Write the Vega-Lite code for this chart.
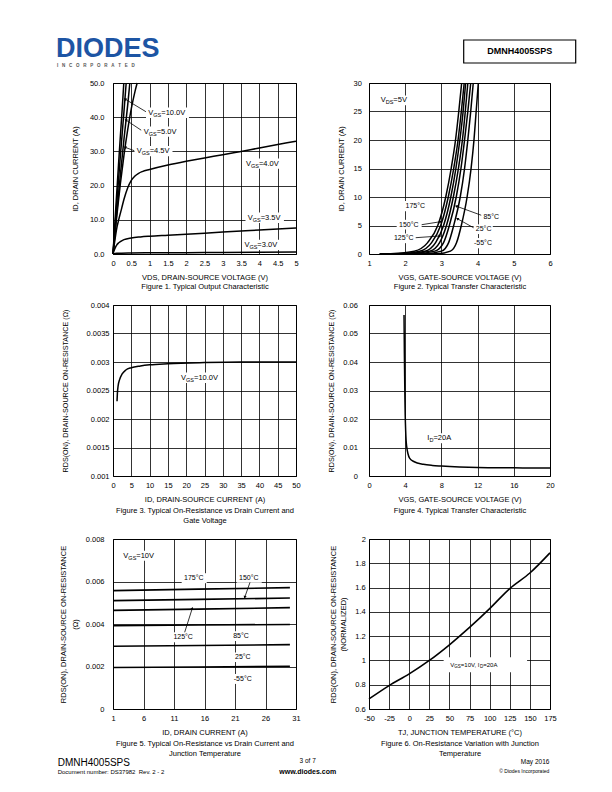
{
"$schema":"https://vega.github.io/schema/vega-lite/v6.json",
"background":"white",
"padding":{"left":55,"top":34,"right":0,"bottom":0},
"autosize":{"type":"pad"},
"columns":2,
"align":"each",
"spacing":{"row":9,"column":-11},
"config":{
 "font":"Liberation Sans",
 "view":{"stroke":"black","strokeWidth":1},
 "axis":{"grid":true,"gridColor":"black","gridOpacity":1,"gridWidth":0.8,"domain":false,"ticks":false,"labelFont":"Liberation Sans","labelFontSize":7.5,"labelColor":"black","titleFont":"Liberation Sans","titleFontSize":7.5,"titleFontWeight":"normal","titleColor":"black","labelFlush":false,"labelOverlap":false},
 "text":{"font":"Liberation Sans","color":"black"}
},
"datasets":{
 "p1c":[
  {"s":"10V","x":0,"y":0},{"s":"10V","x":0.05,"y":8.8},{"s":"10V","x":0.1,"y":17.5},{"s":"10V","x":0.15,"y":26},{"s":"10V","x":0.2,"y":34.3},{"s":"10V","x":0.25,"y":42.2},{"s":"10V","x":0.295,"y":50},
  {"s":"6V","x":0,"y":0},{"s":"6V","x":0.1,"y":14.5},{"s":"6V","x":0.2,"y":28.5},{"s":"6V","x":0.3,"y":41.7},{"s":"6V","x":0.36,"y":50},
  {"s":"5V","x":0,"y":0},{"s":"5V","x":0.1,"y":11.8},{"s":"5V","x":0.2,"y":23},{"s":"5V","x":0.3,"y":33.6},{"s":"5V","x":0.4,"y":43.4},{"s":"5V","x":0.46,"y":50},
  {"s":"4.5V","x":0,"y":0},{"s":"4.5V","x":0.1,"y":10.8},{"s":"4.5V","x":0.2,"y":20.4},{"s":"4.5V","x":0.3,"y":28.9},{"s":"4.5V","x":0.4,"y":36.2},{"s":"4.5V","x":0.5,"y":42.5},{"s":"4.5V","x":0.6,"y":47.5},{"s":"4.5V","x":0.66,"y":50},
  {"s":"4V","x":0,"y":0},{"s":"4V","x":0.035,"y":2.8},{"s":"4V","x":0.07,"y":5.4},{"s":"4V","x":0.11,"y":7.9},{"s":"4V","x":0.16,"y":10.2},{"s":"4V","x":0.24,"y":13.5},{"s":"4V","x":0.3,"y":16},{"s":"4V","x":0.4,"y":19.3},{"s":"4V","x":0.5,"y":21.5},{"s":"4V","x":0.6,"y":22.8},{"s":"4V","x":0.7,"y":23.6},{"s":"4V","x":0.8,"y":24.1},{"s":"4V","x":1,"y":24.7},{"s":"4V","x":1.5,"y":26},{"s":"4V","x":2,"y":27.1},{"s":"4V","x":2.5,"y":28.1},{"s":"4V","x":3,"y":29},{"s":"4V","x":3.5,"y":30},{"s":"4V","x":4,"y":31},{"s":"4V","x":4.5,"y":32},{"s":"4V","x":5,"y":33},
  {"s":"3.5V","x":0,"y":0},{"s":"3.5V","x":0.03,"y":1},{"s":"3.5V","x":0.06,"y":1.8},{"s":"3.5V","x":0.1,"y":2.6},{"s":"3.5V","x":0.15,"y":3.2},{"s":"3.5V","x":0.2,"y":3.6},{"s":"3.5V","x":0.3,"y":4.2},{"s":"3.5V","x":0.5,"y":4.7},{"s":"3.5V","x":0.75,"y":5},{"s":"3.5V","x":1,"y":5.2},{"s":"3.5V","x":1.5,"y":5.5},{"s":"3.5V","x":2,"y":5.8},{"s":"3.5V","x":2.5,"y":6.1},{"s":"3.5V","x":3,"y":6.4},{"s":"3.5V","x":3.5,"y":6.7},{"s":"3.5V","x":4,"y":7},{"s":"3.5V","x":4.5,"y":7.3},{"s":"3.5V","x":5,"y":7.6},
  {"s":"3V","x":0,"y":0},{"s":"3V","x":0.1,"y":0.2},{"s":"3V","x":0.5,"y":0.3},{"s":"3V","x":1,"y":0.35},{"s":"3V","x":2,"y":0.4},{"s":"3V","x":3,"y":0.45},{"s":"3V","x":4,"y":0.5},{"s":"3V","x":5,"y":0.55}
 ],
 "p1b":[
  {"x":0.902,"x2":2.076,"y":39.8,"y2":42.8},
  {"x":0.779,"x2":1.83,"y":34.3,"y2":37.3},
  {"x":0.587,"x2":1.626,"y":28.6,"y2":31.6},
  {"x":3.566,"x2":4.617,"y":24.9,"y2":27.9},
  {"x":3.62,"x2":4.67,"y":9.1,"y2":12.1},
  {"x":3.525,"x2":4.577,"y":1.2,"y2":4.2}
 ],
 "p1r":[
  {"k":"a","x":0.33,"y":45.3,"x2":0.9,"y2":41.6},
  {"k":"b","x":0.35,"y":39.2,"x2":0.77,"y2":36.2},
  {"k":"c","x":0.33,"y":31.2,"x2":0.58,"y2":30.2}
 ],
 "p1l":[
  {"x":0.965,"y":41.3,"a":"V","b":"GS","c":"=10.0V"},
  {"x":0.84,"y":35.8,"a":"V","b":"GS","c":"=5.0V"},
  {"x":0.65,"y":30.1,"a":"V","b":"GS","c":"=4.5V"},
  {"x":3.634,"y":26.4,"a":"V","b":"GS","c":"=4.0V"},
  {"x":3.68,"y":10.6,"a":"V","b":"GS","c":"=3.5V"},
  {"x":3.59,"y":2.6,"a":"V","b":"GS","c":"=3.0V"}
 ],
 "p1h":[{"x":-1.557,"y":57.6,"t":"DIODES"}],
 "p1h2":[{"x":-1.53,"y":54.82,"t":"I\u00a0\u00a0\u00a0N\u00a0\u00a0\u00a0C\u00a0\u00a0\u00a0O\u00a0\u00a0\u00a0R\u00a0\u00a0\u00a0P\u00a0\u00a0\u00a0O\u00a0\u00a0\u00a0R\u00a0\u00a0\u00a0A\u00a0\u00a0\u00a0T\u00a0\u00a0\u00a0E\u00a0\u00a0\u00a0D"}],
 "p2c":[
  {"s":"175","x":1.3,"y":0},{"s":"175","x":1.6,"y":0.05},{"s":"175","x":2.25,"y":0.5},{"s":"175","x":2.62,"y":2},{"s":"175","x":2.9,"y":5},{"s":"175","x":3.12,"y":10},{"s":"175","x":3.27,"y":15},{"s":"175","x":3.39,"y":20},{"s":"175","x":3.48,"y":25},{"s":"175","x":3.56,"y":30},
  {"s":"150","x":1.3,"y":0},{"s":"150","x":1.8,"y":0.05},{"s":"150","x":2.4,"y":0.5},{"s":"150","x":2.73,"y":2},{"s":"150","x":2.98,"y":5},{"s":"150","x":3.19,"y":10},{"s":"150","x":3.34,"y":15},{"s":"150","x":3.46,"y":20},{"s":"150","x":3.55,"y":25},{"s":"150","x":3.63,"y":30},
  {"s":"125","x":1.3,"y":0},{"s":"125","x":2.0,"y":0.05},{"s":"125","x":2.55,"y":0.5},{"s":"125","x":2.84,"y":2},{"s":"125","x":3.06,"y":5},{"s":"125","x":3.26,"y":10},{"s":"125","x":3.4,"y":15},{"s":"125","x":3.51,"y":20},{"s":"125","x":3.6,"y":25},{"s":"125","x":3.67,"y":30},
  {"s":"100","x":1.3,"y":0},{"s":"100","x":2.15,"y":0.05},{"s":"100","x":2.68,"y":0.5},{"s":"100","x":2.95,"y":2},{"s":"100","x":3.14,"y":5},{"s":"100","x":3.33,"y":10},{"s":"100","x":3.47,"y":15},{"s":"100","x":3.58,"y":20},{"s":"100","x":3.66,"y":25},{"s":"100","x":3.73,"y":30},
  {"s":"85","x":1.3,"y":0},{"s":"85","x":2.3,"y":0.05},{"s":"85","x":2.82,"y":0.5},{"s":"85","x":3.06,"y":2},{"s":"85","x":3.22,"y":5},{"s":"85","x":3.41,"y":10},{"s":"85","x":3.54,"y":15},{"s":"85","x":3.64,"y":20},{"s":"85","x":3.73,"y":25},{"s":"85","x":3.81,"y":30},
  {"s":"25","x":1.3,"y":0},{"s":"25","x":2.55,"y":0.05},{"s":"25","x":3.0,"y":0.5},{"s":"25","x":3.2,"y":2},{"s":"25","x":3.34,"y":5},{"s":"25","x":3.52,"y":10},{"s":"25","x":3.64,"y":15},{"s":"25","x":3.73,"y":20},{"s":"25","x":3.81,"y":25},{"s":"25","x":3.88,"y":30},
  {"s":"-55","x":1.3,"y":0},{"s":"-55","x":2.9,"y":0.05},{"s":"-55","x":3.25,"y":0.5},{"s":"-55","x":3.42,"y":2},{"s":"-55","x":3.55,"y":5},{"s":"-55","x":3.71,"y":10},{"s":"-55","x":3.82,"y":15},{"s":"-55","x":3.9,"y":20},{"s":"-55","x":3.96,"y":25},{"s":"-55","x":4.02,"y":30}
 ],
 "p2b":[
  {"x":1.268,"x2":2.124,"y":26.1,"y2":27.8},
  {"x":1.96,"x2":2.62,"y":7.5,"y2":9.3},
  {"x":1.765,"x2":2.455,"y":4.3,"y2":6.0},
  {"x":1.627,"x2":2.29,"y":1.9,"y2":3.6},
  {"x":4.1,"x2":4.65,"y":5.7,"y2":7.4},
  {"x":3.89,"x2":4.42,"y":3.5,"y2":5.2},
  {"x":3.84,"x2":4.5,"y":1.0,"y2":2.8}
 ],
 "p2r":[
  {"k":"a","x":2.98,"y":5.67,"x2":2.455,"y2":5.14},
  {"k":"b","x":2.96,"y":3.16,"x2":2.29,"y2":2.86},
  {"k":"c","x":3.41,"y":8.4,"x2":4.1,"y2":6.8},
  {"k":"d","x":3.44,"y":6.2,"x2":3.89,"y2":4.6}
 ],
 "p2t":[
  {"x":2.01,"y":8.4,"t":"175°C"},
  {"x":1.83,"y":5.15,"t":"150°C"},
  {"x":1.69,"y":2.75,"t":"125°C"},
  {"x":4.16,"y":6.55,"t":"85°C"},
  {"x":3.95,"y":4.33,"t":"25°C"},
  {"x":3.9,"y":1.93,"t":"-55°C"}
 ],
 "p2l":[{"x":1.323,"y":26.96,"a":"V","b":"DS","c":"=5V"}],
 "p2hb":[{"x":3.616,"x2":6.71,"y":37.54,"y2":33.51}],
 "p2ht":[{"x":5.163,"y":35.53,"t":"DMNH4005SPS"}],
 "p3c":[
  {"x":1.1,"y":0.00231},{"x":1.2,"y":0.00245},{"x":1.4,"y":0.00258},{"x":1.8,"y":0.00269},{"x":2.5,"y":0.00279},{"x":3.5,"y":0.00286},{"x":5,"y":0.0029},{"x":7.5,"y":0.00293},{"x":10,"y":0.00295},{"x":15,"y":0.00297},{"x":25,"y":0.00299},{"x":35,"y":0.003},{"x":50,"y":0.003}
 ],
 "p3b":[{"x":18.03,"x2":30.05,"y":0.002632,"y2":0.002816}],
 "p3l":[{"x":18.6,"y":0.002725,"a":"V","b":"GS","c":"=10.0V"}],
 "p4c":[
  {"x":3.87,"y":0.0565},{"x":3.89,"y":0.05},{"x":3.91,"y":0.043},{"x":3.94,"y":0.035},{"x":3.97,"y":0.027},{"x":4.0,"y":0.0215},{"x":4.05,"y":0.016},{"x":4.1,"y":0.0125},{"x":4.17,"y":0.0102},{"x":4.3,"y":0.0079},{"x":4.5,"y":0.0062},{"x":5,"y":0.005},{"x":6,"y":0.0041},{"x":7,"y":0.0037},{"x":8,"y":0.0035},{"x":10,"y":0.0032},{"x":12,"y":0.003},{"x":14,"y":0.0029},{"x":16,"y":0.0029},{"x":18,"y":0.0028},{"x":20,"y":0.0028}
 ],
 "p4b":[{"x":6.21,"x2":9.47,"y":0.0115,"y2":0.015}],
 "p4l":[{"x":6.45,"y":0.01322,"a":"I","b":"D","c":"=20A"}],
 "p5c":[
  {"s":"175","x":1,"y":0.00557},{"s":"175","x":15,"y":0.00564},{"s":"175","x":30,"y":0.00571},
  {"s":"150","x":1,"y":0.0051},{"s":"150","x":15,"y":0.00516},{"s":"150","x":30,"y":0.00522},
  {"s":"125","x":1,"y":0.00464},{"s":"125","x":15,"y":0.0047},{"s":"125","x":30,"y":0.00477},
  {"s":"85","x":1,"y":0.00392},{"s":"85","x":15,"y":0.00395},{"s":"85","x":30,"y":0.00398},
  {"s":"25","x":1,"y":0.00295},{"s":"25","x":15,"y":0.00299},{"s":"25","x":30,"y":0.00303},
  {"s":"-55","x":1,"y":0.00195},{"s":"-55","x":15,"y":0.00198},{"s":"-55","x":30,"y":0.00201}
 ],
 "p5b":[
  {"x":2.34,"x2":8.0,"y":0.00698,"y2":0.00745},
  {"x":12.26,"x2":16.36,"y":0.00592,"y2":0.00639},
  {"x":21.28,"x2":25.38,"y":0.00594,"y2":0.00642},
  {"x":10.54,"x2":14.72,"y":0.00314,"y2":0.00361},
  {"x":20.38,"x2":23.66,"y":0.0032,"y2":0.00366},
  {"x":20.62,"x2":23.66,"y":0.00221,"y2":0.00266},
  {"x":20.46,"x2":23.82,"y":0.00118,"y2":0.00165}
 ],
 "p5r":[
  {"k":"a","x":22.6,"y":0.00526,"x2":23.46,"y2":0.00596},
  {"k":"b","x":14.0,"y":0.00474,"x2":12.75,"y2":0.00361}
 ],
 "p5t":[
  {"x":12.64,"y":0.00615,"t":"175°C"},
  {"x":21.66,"y":0.00618,"t":"150°C"},
  {"x":10.9,"y":0.003373,"t":"125°C"},
  {"x":20.7,"y":0.00342,"t":"85°C"},
  {"x":21.0,"y":0.002433,"t":"25°C"},
  {"x":20.8,"y":0.001412,"t":"-55°C"}
 ],
 "p5l":[{"x":2.7,"y":0.007214,"a":"V","b":"GS","c":"=10V"}],
 "p5f1":[{"x":-8.066,"y":-0.002682,"t":"DMNH4005SPS"}],
 "p5f2":[{"x":-8.066,"y":-0.003059,"t":"Document number: DS37982\u00a0\u00a0Rev. 2 - 2"}],
 "p5f3":[{"x":32.92,"y":-0.002541,"t":"3 of 7"}],
 "p5f4":[{"x":32.92,"y":-0.003059,"t":"www.diodes.com"}],
 "p6c":[
  {"x":-50,"y":0.683},{"x":-25,"y":0.793},{"x":0,"y":0.889},{"x":25,"y":1.0},{"x":50,"y":1.129},{"x":75,"y":1.272},{"x":100,"y":1.427},{"x":125,"y":1.592},{"x":150,"y":1.72},{"x":175,"y":1.886}
 ],
 "p6b":[{"x":42.8,"x2":146.5,"y":0.902,"y2":1.026}],
 "p6l":[{"x":51.1,"y":0.962,"a":"V","b":"GS","c":"=10V, I","d":"D","e":"=20A"}],
 "p6f1":[{"x":174.2,"y":0.147,"t":"May 2016"}],
 "p6f2":[{"x":174.2,"y":0.0728,"t":"© Diodes Incorporated"}]
},
"concat":[
 {
  "width":183,"height":171,
  "encoding":{
   "x":{"field":"x","type":"quantitative","scale":{"domain":[0,5],"nice":false,"zero":false},
    "axis":{"values":[0,0.5,1,1.5,2,2.5,3,3.5,4,4.5,5],"format":".1~f","labelPadding":5,"titlePadding":7,"titleLineHeight":9,
     "title":["VDS, DRAIN-SOURCE VOLTAGE (V)","Figure 1. Typical Output Characteristic"]}},
   "y":{"field":"y","type":"quantitative","scale":{"domain":[0,50],"nice":false,"zero":false},
    "axis":{"values":[0,10,20,30,40,50],"format":".1f","labelPadding":9,"titlePadding":10,"title":"ID, DRAIN CURRENT (A)"}}
  },
  "layer":[
   {"data":{"name":"p1c"},"mark":{"type":"line","color":"black","strokeWidth":1.5,"interpolate":"monotone"},"encoding":{"detail":{"field":"s","type":"nominal"}}},
   {"data":{"name":"p1b"},"mark":{"type":"rect","color":"white"},"encoding":{"x2":{"field":"x2"},"y2":{"field":"y2"}}},
   {"data":{"name":"p1r"},"mark":{"type":"rule","color":"black","strokeWidth":0.8},"encoding":{"x2":{"field":"x2"},"y2":{"field":"y2"}}},
   {"data":{"name":"p1r"},"transform":[{"filter":"datum.k=='a'"}],"mark":{"type":"point","shape":"triangle-up","filled":true,"color":"black","opacity":1,"size":10,"angle":-59}},
   {"data":{"name":"p1r"},"transform":[{"filter":"datum.k=='b'"}],"mark":{"type":"point","shape":"triangle-up","filled":true,"color":"black","opacity":1,"size":10,"angle":-56}},
   {"data":{"name":"p1r"},"transform":[{"filter":"datum.k=='c'"}],"mark":{"type":"point","shape":"triangle-up","filled":true,"color":"black","opacity":1,"size":10,"angle":-70}},
   {"data":{"name":"p1l"},"mark":{"type":"text","align":"left","baseline":"middle","fontSize":7.5},"encoding":{"text":{"field":"a"}}},
   {"data":{"name":"p1l"},"mark":{"type":"text","align":"left","baseline":"middle","fontSize":5.5,"dx":5,"dy":2},"encoding":{"text":{"field":"b"}}},
   {"data":{"name":"p1l"},"mark":{"type":"text","align":"left","baseline":"middle","fontSize":7.5,"dx":12.95},"encoding":{"text":{"field":"c"}}},
   {"data":{"name":"p1h"},"mark":{"type":"text","align":"left","baseline":"alphabetic","fontSize":27,"fontWeight":"bold","color":"#1d55a4"},"encoding":{"text":{"field":"t"}}},
   {"data":{"name":"p1h2"},"mark":{"type":"text","align":"left","baseline":"alphabetic","fontSize":4.5,"fontWeight":"bold","color":"#555555"},"encoding":{"text":{"field":"t"}}}
  ]
 },
 {
  "width":181,"height":171,
  "encoding":{
   "x":{"field":"x","type":"quantitative","scale":{"domain":[1,6],"nice":false,"zero":false},
    "axis":{"values":[1,2,3,4,5,6],"format":"d","labelPadding":5,"titlePadding":7,"titleLineHeight":9,
     "title":["VGS, GATE-SOURCE VOLTAGE (V)","Figure 2. Typical Transfer Characteristic"]}},
   "y":{"field":"y","type":"quantitative","scale":{"domain":[0,30],"nice":false,"zero":false},
    "axis":{"values":[0,5,10,15,20,25,30],"format":"d","labelPadding":7.6,"titlePadding":8,"title":"ID, DRAIN CURRENT (A)"}}
  },
  "layer":[
   {"data":{"name":"p2c"},"mark":{"type":"line","color":"black","strokeWidth":1.5,"interpolate":"monotone"},"encoding":{"detail":{"field":"s","type":"nominal"}}},
   {"data":{"name":"p2b"},"mark":{"type":"rect","color":"white"},"encoding":{"x2":{"field":"x2"},"y2":{"field":"y2"}}},
   {"data":{"name":"p2r"},"mark":{"type":"rule","color":"black","strokeWidth":0.8},"encoding":{"x2":{"field":"x2"},"y2":{"field":"y2"}}},
   {"data":{"name":"p2r"},"transform":[{"filter":"datum.k=='a'"}],"mark":{"type":"point","shape":"triangle-up","filled":true,"color":"black","opacity":1,"size":10,"angle":81}},
   {"data":{"name":"p2r"},"transform":[{"filter":"datum.k=='b'"}],"mark":{"type":"point","shape":"triangle-up","filled":true,"color":"black","opacity":1,"size":10,"angle":86}},
   {"data":{"name":"p2r"},"transform":[{"filter":"datum.k=='c'"}],"mark":{"type":"point","shape":"triangle-up","filled":true,"color":"black","opacity":1,"size":10,"angle":-70}},
   {"data":{"name":"p2r"},"transform":[{"filter":"datum.k=='d'"}],"mark":{"type":"point","shape":"triangle-up","filled":true,"color":"black","opacity":1,"size":10,"angle":-61}},
   {"data":{"name":"p2t"},"mark":{"type":"text","align":"left","baseline":"middle","fontSize":7},"encoding":{"text":{"field":"t"}}},
   {"data":{"name":"p2l"},"mark":{"type":"text","align":"left","baseline":"middle","fontSize":7.5},"encoding":{"text":{"field":"a"}}},
   {"data":{"name":"p2l"},"mark":{"type":"text","align":"left","baseline":"middle","fontSize":5.5,"dx":5,"dy":2},"encoding":{"text":{"field":"b"}}},
   {"data":{"name":"p2l"},"mark":{"type":"text","align":"left","baseline":"middle","fontSize":7.5,"dx":12.64},"encoding":{"text":{"field":"c"}}},
   {"data":{"name":"p2hb"},"mark":{"type":"rect","filled":false,"color":"black","strokeWidth":1.2},"encoding":{"x2":{"field":"x2"},"y2":{"field":"y2"}}},
   {"data":{"name":"p2ht"},"mark":{"type":"text","align":"center","baseline":"middle","fontSize":9,"fontWeight":"bold"},"encoding":{"text":{"field":"t"}}}
  ]
 },
 {
  "width":183,"height":171,
  "encoding":{
   "x":{"field":"x","type":"quantitative","scale":{"domain":[0,50],"nice":false,"zero":false},
    "axis":{"values":[0,5,10,15,20,25,30,35,40,45,50],"format":"d","labelPadding":5,"titlePadding":7,"titleLineHeight":10.5,
     "title":["ID, DRAIN-SOURCE CURRENT (A)","Figure 3. Typical On-Resistance vs Drain Current and","Gate Voltage"]}},
   "y":{"field":"y","type":"quantitative","scale":{"domain":[0.001,0.004],"nice":false,"zero":false},
    "axis":{"values":[0.001,0.0015,0.002,0.0025,0.003,0.0035,0.004],"format":"~g","labelPadding":4,"titlePadding":17,"titleFontSize":7.2,"title":"RDS(ON), DRAIN-SOURCE ON-RESISTANCE (Ω)"}}
  },
  "layer":[
   {"data":{"name":"p3c"},"mark":{"type":"line","color":"black","strokeWidth":1.5,"interpolate":"monotone"}},
   {"data":{"name":"p3b"},"mark":{"type":"rect","color":"white"},"encoding":{"x2":{"field":"x2"},"y2":{"field":"y2"}}},
   {"data":{"name":"p3l"},"mark":{"type":"text","align":"left","baseline":"middle","fontSize":7.5},"encoding":{"text":{"field":"a"}}},
   {"data":{"name":"p3l"},"mark":{"type":"text","align":"left","baseline":"middle","fontSize":5.5,"dx":5,"dy":2},"encoding":{"text":{"field":"b"}}},
   {"data":{"name":"p3l"},"mark":{"type":"text","align":"left","baseline":"middle","fontSize":7.5,"dx":12.95},"encoding":{"text":{"field":"c"}}}
  ]
 },
 {
  "width":181,"height":171,
  "encoding":{
   "x":{"field":"x","type":"quantitative","scale":{"domain":[0,20],"nice":false,"zero":false},
    "axis":{"values":[0,4,8,12,16,20],"format":"d","labelPadding":5,"titlePadding":7,"titleLineHeight":10.5,
     "title":["VGS, GATE-SOURCE VOLTAGE (V)","Figure 4. Typical Transfer Characteristic"]}},
   "y":{"field":"y","type":"quantitative","scale":{"domain":[0,0.06],"nice":false,"zero":false},
    "axis":{"values":[0,0.01,0.02,0.03,0.04,0.05,0.06],"format":"~g","labelPadding":11.6,"titlePadding":7.5,"titleFontSize":7.2,"title":"RDS(ON), DRAIN-SOURCE ON-RESISTANCE (Ω)"}}
  },
  "layer":[
   {"data":{"name":"p4c"},"mark":{"type":"line","color":"black","strokeWidth":1.5,"interpolate":"monotone"}},
   {"data":{"name":"p4b"},"mark":{"type":"rect","color":"white"},"encoding":{"x2":{"field":"x2"},"y2":{"field":"y2"}}},
   {"data":{"name":"p4l"},"mark":{"type":"text","align":"left","baseline":"middle","fontSize":7.5},"encoding":{"text":{"field":"a"}}},
   {"data":{"name":"p4l"},"mark":{"type":"text","align":"left","baseline":"middle","fontSize":5.5,"dx":2.1,"dy":2},"encoding":{"text":{"field":"b"}}},
   {"data":{"name":"p4l"},"mark":{"type":"text","align":"left","baseline":"middle","fontSize":7.5,"dx":6.1},"encoding":{"text":{"field":"c"}}}
  ]
 },
 {
  "width":183,"height":170,
  "encoding":{
   "x":{"field":"x","type":"quantitative","scale":{"domain":[1,31],"nice":false,"zero":false},
    "axis":{"values":[1,6,11,16,21,26,31],"format":"d","labelPadding":5,"titlePadding":7,"titleLineHeight":10.5,
     "title":["ID, DRAIN CURRENT (A)","Figure 5. Typical On-Resistance vs Drain Current and","Junction Temperature"]}},
   "y":{"field":"y","type":"quantitative","scale":{"domain":[0,0.008],"nice":false,"zero":false},
    "axis":{"values":[0,0.002,0.004,0.006,0.008],"format":"~g","labelPadding":9,"titlePadding":6,"titleLineHeight":12,"title":["RDS(ON), DRAIN-SOURCE ON-RESISTANCE","(Ω)"]}}
  },
  "layer":[
   {"data":{"name":"p5c"},"mark":{"type":"line","color":"black","strokeWidth":1.6},"encoding":{"detail":{"field":"s","type":"nominal"}}},
   {"data":{"name":"p5b"},"mark":{"type":"rect","color":"white"},"encoding":{"x2":{"field":"x2"},"y2":{"field":"y2"}}},
   {"data":{"name":"p5r"},"mark":{"type":"rule","color":"black","strokeWidth":0.8},"encoding":{"x2":{"field":"x2"},"y2":{"field":"y2"}}},
   {"data":{"name":"p5r"},"transform":[{"filter":"datum.k=='a'"}],"mark":{"type":"point","shape":"triangle-up","filled":true,"color":"black","opacity":1,"size":10,"angle":-161}},
   {"data":{"name":"p5r"},"transform":[{"filter":"datum.k=='b'"}],"mark":{"type":"point","shape":"triangle-up","filled":true,"color":"black","opacity":1,"size":10,"angle":18}},
   {"data":{"name":"p5t"},"mark":{"type":"text","align":"left","baseline":"middle","fontSize":7},"encoding":{"text":{"field":"t"}}},
   {"data":{"name":"p5l"},"mark":{"type":"text","align":"left","baseline":"middle","fontSize":7.5},"encoding":{"text":{"field":"a"}}},
   {"data":{"name":"p5l"},"mark":{"type":"text","align":"left","baseline":"middle","fontSize":5.5,"dx":5,"dy":2},"encoding":{"text":{"field":"b"}}},
   {"data":{"name":"p5l"},"mark":{"type":"text","align":"left","baseline":"middle","fontSize":7.5,"dx":12.95},"encoding":{"text":{"field":"c"}}},
   {"data":{"name":"p5f1"},"mark":{"type":"text","align":"left","baseline":"alphabetic","fontSize":10},"encoding":{"text":{"field":"t"}}},
   {"data":{"name":"p5f2"},"mark":{"type":"text","align":"left","baseline":"alphabetic","fontSize":6},"encoding":{"text":{"field":"t"}}},
   {"data":{"name":"p5f3"},"mark":{"type":"text","align":"center","baseline":"alphabetic","fontSize":6.5},"encoding":{"text":{"field":"t"}}},
   {"data":{"name":"p5f4"},"mark":{"type":"text","align":"center","baseline":"alphabetic","fontSize":7,"fontWeight":"bold"},"encoding":{"text":{"field":"t"}}}
  ]
 },
 {
  "width":181,"height":170,
  "encoding":{
   "x":{"field":"x","type":"quantitative","scale":{"domain":[-50,175],"nice":false,"zero":false},
    "axis":{"values":[-50,-25,0,25,50,75,100,125,150,175],"labelExpr":"'' + datum.value","labelPadding":5,"titlePadding":7,"titleLineHeight":10.5,
     "title":["TJ, JUNCTION TEMPERATURE (°C)","Figure 6. On-Resistance Variation with Junction","Temperature"]}},
   "y":{"field":"y","type":"quantitative","scale":{"domain":[0.6,2],"nice":false,"zero":false},
    "axis":{"values":[0.6,0.8,1,1.2,1.4,1.6,1.8,2],"format":"~g","labelPadding":3.7,"titlePadding":7.6,"titleLineHeight":9.3,"title":["RDS(ON), DRAIN-SOURCE ON-RESISTANCE","(NORMALIZED)"]}}
  },
  "layer":[
   {"data":{"name":"p6c"},"mark":{"type":"line","color":"black","strokeWidth":1.6,"interpolate":"monotone"}},
   {"data":{"name":"p6b"},"mark":{"type":"rect","color":"white"},"encoding":{"x2":{"field":"x2"},"y2":{"field":"y2"}}},
   {"data":{"name":"p6l"},"mark":{"type":"text","align":"left","baseline":"middle","fontSize":6},"encoding":{"text":{"field":"a"}}},
   {"data":{"name":"p6l"},"mark":{"type":"text","align":"left","baseline":"middle","fontSize":4.5,"dx":4,"dy":1.6},"encoding":{"text":{"field":"b"}}},
   {"data":{"name":"p6l"},"mark":{"type":"text","align":"left","baseline":"middle","fontSize":6,"dx":10.5},"encoding":{"text":{"field":"c"}}},
   {"data":{"name":"p6l"},"mark":{"type":"text","align":"left","baseline":"middle","fontSize":4.5,"dx":29.7,"dy":1.6},"encoding":{"text":{"field":"d"}}},
   {"data":{"name":"p6l"},"mark":{"type":"text","align":"left","baseline":"middle","fontSize":6,"dx":32.95},"encoding":{"text":{"field":"e"}}},
   {"data":{"name":"p6f1"},"mark":{"type":"text","align":"right","baseline":"alphabetic","fontSize":6.5},"encoding":{"text":{"field":"t"}}},
   {"data":{"name":"p6f2"},"mark":{"type":"text","align":"right","baseline":"alphabetic","fontSize":5},"encoding":{"text":{"field":"t"}}}
  ]
 }
]
}
